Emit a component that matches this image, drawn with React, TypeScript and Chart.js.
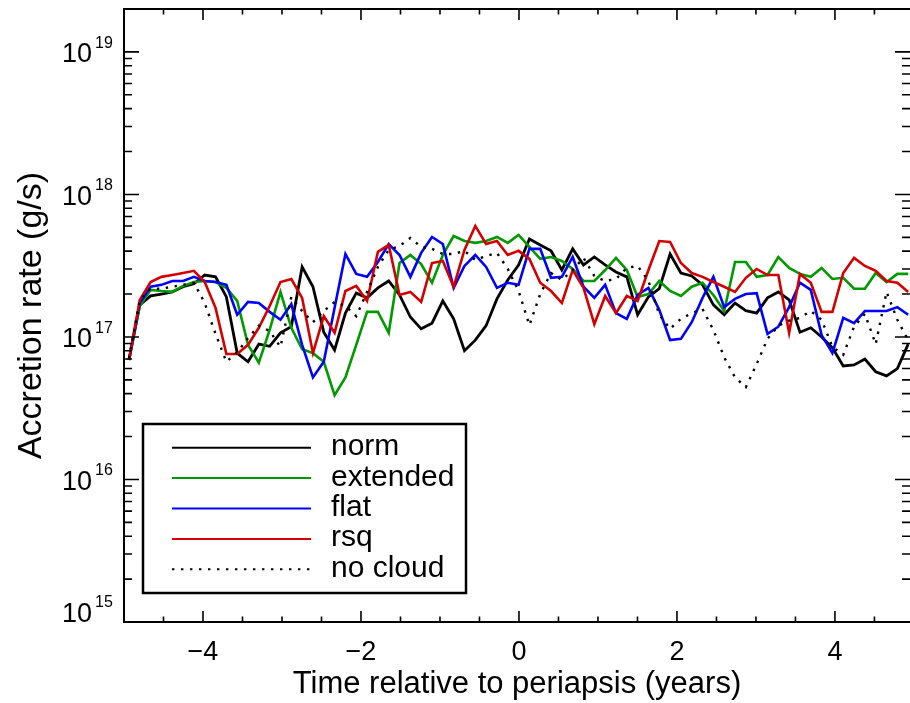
import React, { useEffect, useRef } from "react";
import { Chart, registerables } from "chart.js";

Chart.register(...registerables);

// Time relative to periapsis (years)
const TIME = [
  -4.937, -4.8, -4.663, -4.526, -4.389, -4.252, -4.115, -3.978, -3.841, -3.704,
  -3.567, -3.43, -3.293, -3.156, -3.019, -2.882, -2.745, -2.608, -2.471, -2.334,
  -2.197, -2.06, -1.923, -1.786, -1.649, -1.512, -1.375, -1.238, -1.101, -0.964,
  -0.827, -0.69, -0.553, -0.416, -0.279, -0.142, -0.005, 0.132, 0.269, 0.406,
  0.543, 0.68, 0.817, 0.954, 1.091, 1.228, 1.365, 1.502, 1.639, 1.776,
  1.913, 2.05, 2.187, 2.324, 2.461, 2.598, 2.735, 2.872, 3.009, 3.146,
  3.283, 3.42, 3.557, 3.694, 3.831, 3.968, 4.105, 4.242, 4.379, 4.516,
  4.653, 4.79, 4.927,
];

// Accretion rates in units of 1e17 g/s
const UNIT = 1e17;
const NORM = [
  0.69, 1.68, 1.94, 2.0, 2.07, 2.25, 2.36, 2.72, 2.64, 1.91,
  0.77, 0.67, 0.89, 0.86, 1.07, 1.18, 3.1, 2.25, 1.08, 0.81,
  1.47, 2.03, 1.88, 2.21, 2.47, 1.97, 1.38, 1.14, 1.25, 1.79,
  1.34, 0.8, 0.95, 1.2, 1.85, 2.51, 3.2, 4.87, 4.42, 4.02,
  2.95, 4.15, 3.2, 3.64, 3.2, 2.86, 2.64, 1.43, 1.91, 2.18,
  3.82, 2.81, 2.68, 2.32, 1.68, 1.43, 1.73, 1.53, 1.47, 1.88,
  2.07, 1.82, 1.08, 1.16, 1.0, 0.84, 0.626, 0.636, 0.7, 0.57,
  0.533, 0.6, 0.89,
];
const EXTENDED = [
  0.69, 1.65, 2.14, 2.1, 2.07, 2.28, 2.43, 2.47, 2.43, 2.21,
  1.79, 0.88, 0.66, 1.12, 2.07, 1.16, 0.82, 0.77, 0.67, 0.39,
  0.52, 0.88, 1.5, 1.5, 1.07, 3.3, 3.76, 3.25, 2.4, 3.76,
  5.11, 4.71, 4.57, 4.71, 5.03, 4.57, 5.2, 4.28, 3.53, 3.64,
  3.41, 3.0, 2.47, 2.47, 2.95, 3.59, 2.95, 1.91, 2.0, 2.47,
  2.1, 1.94, 2.25, 2.4, 1.97, 1.52, 3.36, 3.36, 2.64, 2.72,
  3.64, 3.05, 2.77, 2.64, 3.05, 2.55, 2.6, 2.18, 2.18, 2.81,
  2.43, 2.77, 2.77,
];
const FLAT = [
  0.69, 1.73, 2.25, 2.32, 2.47, 2.47, 2.64, 2.47, 2.43, 2.32,
  1.43, 1.76, 1.73, 1.5, 1.32, 1.7, 0.88, 0.52, 0.67, 1.6,
  3.82, 2.77, 2.64, 3.36, 4.49, 3.76, 2.64, 3.89, 5.03, 4.49,
  2.21, 3.15, 3.76, 3.1, 2.21, 2.4, 2.32, 4.15, 4.15, 2.6,
  2.64, 3.64, 2.25, 1.88, 2.32, 1.47, 1.34, 1.97, 2.21, 1.55,
  0.95, 0.97, 1.27, 1.88, 2.64, 1.62, 1.85, 2.0, 2.03, 1.05,
  1.18, 1.62, 2.4, 2.14, 1.03, 0.77, 1.36, 1.25, 1.52, 1.52,
  1.52, 1.62, 1.43,
];
const RSQ = [
  0.69, 1.82, 2.43, 2.64, 2.72, 2.81, 2.91, 2.43, 1.6, 0.76,
  0.76, 0.88, 1.16, 1.65, 2.43, 2.55, 1.88, 0.77, 1.4, 1.07,
  2.1, 2.28, 1.79, 3.95, 4.42, 1.97, 2.07, 1.76, 3.3, 3.41,
  2.25, 4.08, 6.01, 4.49, 4.71, 3.76, 4.02, 3.53, 2.4, 2.1,
  1.73, 2.95, 2.21, 1.23, 1.94, 1.47, 1.94, 1.79, 2.95, 4.71,
  4.64, 3.3, 2.81, 2.64, 2.43, 2.25, 2.07, 2.6, 3.0, 2.72,
  2.72, 1.07, 2.77, 2.4, 1.5, 1.5, 2.81, 3.59, 3.15, 2.91,
  2.47, 2.4, 2.07,
];
const NO_CLOUD = [
  0.71, 1.82, 2.18, 2.18, 2.25, 2.32, 2.4, 1.73, 1.05, 0.67,
  0.78, 0.98, 1.2, 1.1, 0.85, 1.91, 1.52, 1.27, 1.52, 1.76,
  1.65, 1.4, 2.07, 3.1, 4.08, 4.35, 4.95, 4.28, 4.15, 3.82,
  3.82, 4.02, 3.47, 3.7, 3.89, 3.0, 2.1, 1.21, 2.0, 2.81,
  2.51, 2.95, 3.59, 2.68, 2.47, 2.55, 3.05, 3.15, 2.47, 1.43,
  1.14, 1.34, 1.47, 1.57, 1.12, 0.72, 0.52, 0.445, 0.645, 0.97,
  1.2, 1.3, 1.36, 1.52, 1.32, 0.85, 0.75, 1.18, 1.45, 0.89,
  2.07, 1.32, 0.95,
];

const SERIES = [NORM, EXTENDED, FLAT, RSQ, NO_CLOUD];
const LABELS = ["norm", "extended", "flat", "rsq", "no cloud"];
const COLORS = ["#000000", "#009a00", "#0000ff", "#d40000", "#000000"];
const WIDTHS = [2.8, 2.6, 2.6, 2.6, 2.4];
const DASHES: number[][] = [[], [], [], [], [2.4, 6.6]];

const X_MAJOR = [-4, -2, 0, 2, 4];
const X_MINOR = [-4.5, -3.5, -3, -2.5, -1.5, -1, -0.5, 0.5, 1, 1.5, 2.5, 3, 3.5, 4.5];
const Y_DECADES = [15, 16, 17, 18, 19];
const Y_MINOR_MULT = [2, 3, 4, 5, 6, 7, 8, 9];

const FONT = "'Liberation Sans', Arial, Helvetica, sans-serif";

const idlAxes = {
  id: "idlAxes",
  afterDraw(chart: any) {
    const { ctx, chartArea: a, scales } = chart;
    const xs = scales.x;
    const ys = scales.y;
    ctx.save();
    ctx.strokeStyle = "#000";
    ctx.fillStyle = "#000";
    // top border
    ctx.lineWidth = 2;
    ctx.beginPath();
    ctx.moveTo(a.left - 1, a.top);
    ctx.lineTo(a.right, a.top);
    ctx.stroke();

    // x ticks (inward, bottom and top)
    ctx.lineWidth = 1.6;
    const xt: [number, number][] = [
      ...X_MAJOR.map((v) => [v, 11] as [number, number]),
      ...X_MINOR.map((v) => [v, 5.5] as [number, number]),
    ];
    for (const [v, len] of xt) {
      const px = xs.getPixelForValue(v);
      ctx.beginPath();
      ctx.moveTo(px, a.bottom);
      ctx.lineTo(px, a.bottom - len);
      ctx.moveTo(px, a.top);
      ctx.lineTo(px, a.top + len);
      ctx.stroke();
    }

    // y ticks (inward, left and right)
    const yt: [number, number][] = [];
    for (const d of Y_DECADES) {
      yt.push([Math.pow(10, d), 15]);
      if (d < 19) for (const m of Y_MINOR_MULT) yt.push([m * Math.pow(10, d), 8]);
    }
    for (const [v, len] of yt) {
      const py = ys.getPixelForValue(v);
      if (py < a.top - 0.5 || py > a.bottom + 0.5) continue;
      ctx.beginPath();
      ctx.moveTo(a.left, py);
      ctx.lineTo(a.left + len, py);
      ctx.moveTo(a.right, py);
      ctx.lineTo(a.right - len, py);
      ctx.stroke();
    }

    // y tick labels 10^n
    for (const d of Y_DECADES) {
      const py = ys.getPixelForValue(Math.pow(10, d));
      const base = Math.min(py + 10.5, a.bottom);
      ctx.font = `27px ${FONT}`;
      ctx.textAlign = "right";
      ctx.textBaseline = "alphabetic";
      ctx.fillText("10", 92, base);
      ctx.font = `16px ${FONT}`;
      ctx.textAlign = "left";
      ctx.fillText(String(d), 95, base - 14.6);
    }

    // legend
    const bx = 143, by = 424, bw = 323, bh = 169;
    ctx.fillStyle = "#fff";
    ctx.fillRect(bx, by, bw, bh);
    ctx.lineWidth = 2.5;
    ctx.strokeStyle = "#000";
    ctx.strokeRect(bx, by, bw, bh);
    chart.data.datasets.forEach((ds: any, i: number) => {
      const rowY = 447.7 + i * 30.4;
      ctx.save();
      ctx.strokeStyle = ds.borderColor;
      ctx.lineWidth = 2;
      ctx.setLineDash(ds.borderDash || []);
      ctx.beginPath();
      ctx.moveTo(172, rowY);
      ctx.lineTo(311, rowY);
      ctx.stroke();
      ctx.restore();
      ctx.fillStyle = "#000";
      ctx.font = `30px ${FONT}`;
      ctx.textAlign = "left";
      ctx.textBaseline = "alphabetic";
      ctx.fillText(ds.label, 331, rowY + 7.5);
    });
    ctx.restore();
  },
};

export default function App() {
  const ref = useRef<HTMLCanvasElement | null>(null);
  useEffect(() => {
    if (!ref.current) return;
    const datasets = SERIES.map((s, i) => ({
      label: LABELS[i],
      data: s.map((v, k) => ({ x: TIME[k], y: v * UNIT })),
      borderColor: COLORS[i],
      backgroundColor: COLORS[i],
      borderWidth: WIDTHS[i],
      borderDash: DASHES[i],
      pointRadius: 0,
      tension: 0,
      fill: false,
      order: SERIES.length - i,
    }));
    const chart = new Chart(ref.current, {
      type: "line",
      data: { datasets },
      plugins: [idlAxes],
      options: {
        animation: false,
        responsive: false,
        layout: { padding: { top: 9, right: 0, left: 0, bottom: 0 } },
        plugins: { legend: { display: false }, tooltip: { enabled: false } },
        scales: {
          x: {
            type: "linear",
            min: -5,
            max: 4.95,
            grid: { display: false, drawTicks: false, tickLength: 0 },
            border: { display: true, color: "#000", width: 2 },
            afterBuildTicks: (scale: any) => {
              scale.ticks = X_MAJOR.map((v) => ({ value: v }));
            },
            afterFit: (scale: any) => {
              scale.height = 81;
            },
            ticks: {
              autoSkip: false,
              maxRotation: 0,
              padding: 14,
              color: "#000",
              font: { family: FONT, size: 27 },
              callback: (v: any) => (Number(v) < 0 ? "\u2212" + Math.abs(Number(v)) : String(v)),
            },
            title: {
              display: true,
              text: "Time relative to periapsis (years)",
              color: "#000",
              font: { family: FONT, size: 31 },
              padding: { top: 0, bottom: 0 },
            },
          },
          y: {
            type: "logarithmic",
            min: 1e15,
            max: 2e19,
            grid: { display: false, drawTicks: false, tickLength: 0 },
            border: { display: true, color: "#000", width: 2 },
            ticks: { display: false },
            afterFit: (scale: any) => {
              scale.width = 124;
            },
            title: {
              display: true,
              text: "Accretion rate (g/s)",
              color: "#000",
              font: { family: FONT, size: 34 },
              padding: { top: 11, bottom: 0 },
            },
          },
        },
      },
    });
    return () => chart.destroy();
  }, []);
  return (
    <canvas
      ref={ref}
      width={910}
      height={703}
      style={{ position: "absolute", left: 0, top: 0, width: 910, height: 703, display: "block" }}
    />
  );
}
